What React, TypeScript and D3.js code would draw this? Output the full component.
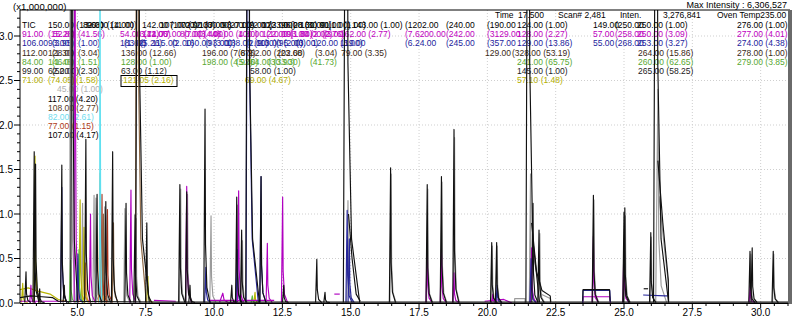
import * as d3 from "d3";

// peak: [retention time (min), height (x1,000,000), base half-width (min)]
type Peak = [number, number, number?];
type Pt = [number, number];

const W = 793;
const H = 318;
const plot = { left: 20, right: 788, top: 10, bottom: 303 };

const xTickLabels = [5.0, 7.5, 10.0, 12.5, 15.0, 17.5, 20.0, 22.5, 25.0, 27.5, 30.0];
const yTickLabels = [0.0, 0.5, 1.0, 1.5, 2.0, 2.5, 3.0];

const blackPeaks: Peak[] = [
  [3.12, 0.35], [3.42, 1.7], [3.47, 1.56], [3.62, 0.16], [4.43, 1.55], [4.52, 0.2],
  [4.81, 9, 0.05], [5.31, 1.84], [5.72, 1.22], [6.04, 1.14], [6.29, 1.7], [6.78, 1.12],
  [7.11, 0.99], [7.23, 9, 0.1], [7.54, 0.9], [8.75, 1.33], [9.0, 1.25], [9.12, 0.2],
  [9.67, 2.18], [10.65, 0.2], [10.83, 1.19], [11.01, 0.82], [11.26, 9, 0.1], [11.72, 1.42],
  [12.55, 0.2], [13.76, 0.49], [14.06, 0.12], [14.85, 9, 0.12], [16.46, 1.52], [17.8, 1.33],
  [18.32, 1.42], [18.78, 1.95], [20.16, 0.68], [20.34, 0.68], [21.51, 9, 0.1], [21.67, 1.12],
  [21.89, 0.82], [23.88, 1.21], [25.0, 1.02], [25.03, 1.07], [25.98, 0.79], [26.19, 9, 0.11],
  [29.61, 0.58], [29.69, 0.62], [30.46, 0.58],
];

const grayPeaks: Peak[] = [
  [4.76, 9, 0.04], [5.19, 1.12], [5.61, 1.21], [5.68, 1.18], [6.0, 1.08], [6.74, 1.06],
  [7.15, 0.95], [8.78, 1.28], [9.03, 1.22], [9.89, 0.98], [10.86, 1.1], [11.04, 0.7],
  [14.9, 1.15], [16.48, 1.45], [17.82, 1.28], [18.34, 1.36], [18.8, 1.86], [20.18, 0.64],
  [20.36, 0.64], [21.58, 1.45], [21.92, 0.78], [23.9, 1.16], [25.05, 0.98], [26.0, 0.74],
  [26.24, 2.4, 0.08], [29.64, 0.55], [30.48, 0.55],
];

const magentaPeaks: Peak[] = [
  [3.3, 0.2], [4.91, 9, 0.03], [5.48, 1.0], [6.96, 1.27], [9.0, 1.31], [10.32, 0.11, 0.12],
  [10.9, 1.26], [11.95, 0.67], [12.51, 1.19], [17.8, 0.68], [18.32, 0.6], [18.78, 0.34],
  [20.2, 0.1], [21.62, 0.62], [23.88, 0.75], [25.0, 0.68], [29.62, 0.2],
];

const navyPeaks: Peak[] = [
  [4.43, 1.3], [5.02, 0.55], [9.7, 0.4], [10.85, 0.6], [11.26, 9, 0.09], [11.72, 1.42],
  [14.87, 1.04], [14.95, 0.72], [21.6, 0.5], [20.36, 0.2],
];

const olivePeaks: Peak[] = [
  [3.0, 0.22], [3.45, 1.65], [5.1, 1.16], [5.24, 0.85], [7.58, 0.3], [11.5, 0.12],
];
const greenPeaks: Peak[] = [[4.75, 0.48], [5.06, 0.6], [11.4, 0.08]];
const brownPeaks: Peak[] = [[5.95, 1.0], [7.2, 9, 0.08], [6.32, 0.9]];
const orangePeaks: Peak[] = [[5.83, 1.46], [5.3, 0.45]];
const redPeaks: Peak[] = [[5.9, 1.22], [6.1, 1.05]];
const cyanPeaks: Peak[] = [[5.83, 9, 0.015]];

// baselines and plateaus
const blackBase: Pt[] = [[2.9, 0.06], [3.3, 0.08], [3.7, 0.07], [4.1, 0.06], [4.3, 0.02], [8.0, 0.01], [31.0, 0.01]];
const oliveBase: Pt[] = [[2.9, 0.15], [3.2, 0.17], [3.6, 0.13], [4.0, 0.1], [4.3, 0.04], [4.6, 0.02]];
const magentaBases: Pt[][] = [
  [[2.9, 0.02], [4.6, 0.02]],
  [[7.8, 0.03], [8.6, 0.02]],
  [[9.8, 0.03], [12.2, 0.03]],
  [[14.4, 0.1], [14.6, 0.1]],
  [[19.9, 0.02], [20.6, 0.04], [20.9, 0.0]],
];
const grayBox: Pt[] = [[21.0, 0], [21.0, 0.05], [21.38, 0.05], [21.38, 0]];
const navyStep: Pt[] = [[23.49, 0], [23.5, 0.14], [24.48, 0.14], [24.5, 0.01]];
const blackStep: Pt[] = [[23.49, 0.02], [23.5, 0.15], [24.47, 0.15], [24.49, 0.02]];
const magentaStep: Pt[] = [[23.49, 0], [23.5, 0.07], [24.48, 0.07], [24.5, 0.0]];
const navySmall: Pt[] = [[25.7, 0.09], [26.5, 0.08], [26.6, 0.08]];
const blackSmall: Pt[] = [[25.72, 0.16], [25.88, 0.16]];
const blackTails: Pt[][] = [
  [[14.92, 1.0], [15.05, 0.5], [15.2, 0.1], [15.35, 0.02]],
  [[21.62, 0.9], [21.8, 0.35], [22.0, 0.14], [22.3, 0.08], [22.32, 0.01]],
  [[26.24, 1.6], [26.42, 0.9], [26.62, 0.26], [26.63, 0.01]],
];
const grayTails: Pt[][] = [
  [[21.7, 0.5], [21.95, 0.1], [22.3, 0.05], [22.31, 0]],
  [[26.28, 1.2], [26.45, 0.7], [26.62, 0.22], [26.63, 0.0]],
];

const series = [
  { color: "#9a9a9a", peaks: grayPeaks, lines: [grayBox, ...grayTails] },
  { color: "#b8b400", peaks: olivePeaks, lines: [oliveBase] },
  { color: "#5cc03a", peaks: greenPeaks, lines: [] as Pt[][] },
  { color: "#e08a20", peaks: orangePeaks, lines: [] as Pt[][] },
  { color: "#a8321c", peaks: redPeaks, lines: [] as Pt[][] },
  { color: "#8a6440", peaks: brownPeaks, lines: [] as Pt[][] },
  { color: "#5fe0f0", peaks: cyanPeaks, lines: [] as Pt[][] },
  { color: "#b000c0", peaks: magentaPeaks, lines: [...magentaBases, magentaStep] },
  { color: "#26269a", peaks: navyPeaks, lines: [navyStep, navySmall] },
  { color: "#111111", peaks: blackPeaks, lines: [blackBase, blackStep, blackSmall, ...blackTails] },
];

const rowColors = [
  "#000000", "#c000c0", "#1c1c9c", "#3a2816", "#58a830", "#222222", "#b4b000",
  "#b0b0b0", "#000000", "#5a3a24", "#6fdcee", "#b03a1a", "#000000",
];

// [row, x, text]
const peakLabels: [number, number, string][] = [
  [0, 22, "TIC"], [0, 48, "150.00 (13.68)"], [0, 83, "82.00 (14.00)"], [0, 87, "90.00 (11.00)"],
  [0, 142, "142.00 (10.00)"], [0, 160, "107.00 (32.00)"], [0, 181, "72.00 (30.00)"],
  [0, 199, "137.00 (27.00)"], [0, 222, "93.00 (22.00)"], [0, 241, "119.00 (33.00)"],
  [0, 262, "122.00 (28.00)"], [0, 281, "96.00 (30.00)"], [0, 300, "131.00 (1.00)"],
  [0, 320, "91.00 (1.00)"], [0, 352, "143.00 (1.00)"], [0, 405, "(1202.00"], [0, 446, "(240.00"],
  [0, 487, "(190.00"], [0, 517, "124.00 (1.00)"], [0, 593, "149.00"], [0, 615, "(250.00"],
  [0, 637, "250.00 (1.00)"], [0, 737, "276.00 (1.00)"],

  [1, 22, "91.00"], [1, 48, "(15.28)"], [1, 53, "52.80"], [1, 78, "(41.56)"],
  [1, 120, "54.00 (12.06)"], [1, 137, "(3.74)"], [1, 142, "141.00"], [1, 160, "77.00 (7.00)"],
  [1, 180, "80.00 (4.00)"], [1, 198, "(3.40)"], [1, 212, "48.00 (4.80)"], [1, 238, "100.00 (10.00)"],
  [1, 262, "122.00 (1.00)"], [1, 282, "193.00 (2.00)"], [1, 300, "84.00 (3.00)"], [1, 322, "(2.76)"],
  [1, 340, "162.00 (2.77)"], [1, 405, "(7.6200.00"], [1, 446, "(242.00"], [1, 487, "(3129.00"],
  [1, 517, "128.00 (2.27)"], [1, 593, "57.00"], [1, 615, "(258.00"], [1, 637, "250.00 (3.09)"],
  [1, 737, "277.00 (4.01)"],

  [2, 22, "106.00"], [2, 48, "93.00"], [2, 52, "(3.95)"], [2, 78, "(1.00)"], [2, 120, "183.00"],
  [2, 124, "(1.62)"], [2, 140, "(5.26)"], [2, 152, "115.00"], [2, 172, "(2.00)"],
  [2, 185, "160.00 (3.00)"], [2, 205, "(93.00)"], [2, 226, "138.00 (9.00)"], [2, 246, "(2.00)"],
  [2, 256, "113.00 (2.00)"], [2, 276, "(95.00)"], [2, 296, "(3.00)"], [2, 312, "120.00 (3.00)"],
  [2, 340, "119.00"], [2, 405, "(6.24.00"], [2, 446, "(245.00"], [2, 487, "(357.00"],
  [2, 517, "129.00 (13.86)"], [2, 593, "55.00"], [2, 615, "(268.00"], [2, 637, "253.00 (3.27)"],
  [2, 737, "274.00 (4.38)"],

  [3, 22, "112.00"], [3, 48, "128.00"], [3, 52, "(1.30)"], [3, 78, "(3.04)"],
  [3, 121, "136.00 (12.66)"], [3, 202, "196.00 (7.67)"], [3, 238, "(8.2)"], [3, 250, "62.00 (202.00"],
  [3, 278, "(23.68)"], [3, 315, "(3.04)"], [3, 341, "79.00 (3.35)"], [3, 485, "129.00"],
  [3, 512, "(328.00 (53.19)"], [3, 638, "264.00 (15.86)"], [3, 737, "278.00 (1.00)"],

  [4, 22, "84.00"], [4, 48, "146.00"], [4, 52, "(1.46)"], [4, 78, "(1.51)"], [4, 121, "128.00 (1.00)"],
  [4, 202, "198.00 (4.92)"], [4, 236, "(5.40)"], [4, 250, "64.00 (33.30)"], [4, 268, "(30.90)"],
  [4, 310, "(41.73)"], [4, 517, "241.00 (65.75)"], [4, 638, "260.00 (62.65)"], [4, 737, "279.00 (3.85)"],

  [5, 22, "99.00"], [5, 48, "62.00"], [5, 52, "(52.00)"], [5, 78, "(2.30)"], [5, 121, "63.00 (1.12)"],
  [5, 250, "58.00 (1.00)"], [5, 517, "145.00 (1.00)"], [5, 638, "265.00 (58.25)"],

  [6, 22, "71.00"], [6, 48, "(74.05)"], [6, 76, "(1.58)"], [6, 123, "121.05 (2.16)"],
  [6, 245, "69.00 (4.67)"], [6, 517, "57.10 (1.48)"],

  [7, 57, "45.00 (1.00)"], [8, 48, "117.00 (4.20)"], [9, 48, "108.00 (2.77)"],
  [10, 48, "82.00 (2.61)"], [11, 48, "77.00 (1.15)"], [12, 48, "107.00 (4.17)"],
];

const headerItems: [number, string][] = [
  [495, "Time"], [518, "17.500"], [558, "Scan# 2,481"], [620, "Inten."], [663, "3,276,841"],
  [717, "Oven Temp235.00"],
];

const font = "'Liberation Sans', Arial, sans-serif";

function spike([t, h, w = 0.045]: Peak): Pt[] {
  return [[t - w, 0.005], [t, h], [t + 0.4 * w, 0.3 * h], [t + 1.5 * w, 0.08 * h], [t + 4 * w, 0.005]];
}

export default function App() {
  const x = d3.scaleLinear().domain([2.9, 31.0]).range([plot.left, plot.right]);
  const y = d3.scaleLinear().domain([0, 3.0]).range([plot.bottom, 36]);
  const line = d3.line<Pt>().x((d) => x(d[0])).y((d) => y(d[1]));

  const rowY = (r: number) => 25 + r * 9.2;
  const xMinor = d3.range(3.0, 31.01, 0.5);
  const yMinor = d3.range(0, 3.25, 0.1);

  return (
    <>
      <style>{`body{margin:0}`}</style>
      <svg width={W} height={H} style={{ display: "block", background: "#fff" }} fontFamily={font}>
        <defs>
          <clipPath id="plotClip">
            <rect x={plot.left} y={plot.top} width={plot.right - plot.left} height={plot.bottom - plot.top + 1} />
          </clipPath>
        </defs>

        {/* grid */}
        <g stroke="#cfcfcf" strokeDasharray="1 2" strokeWidth={1}>
          {yTickLabels.slice(1).map((v) => (
            <line key={`gy${v}`} x1={plot.left} x2={plot.right} y1={y(v)} y2={y(v)} />
          ))}
          {xTickLabels.map((v) => (
            <line key={`gx${v}`} x1={x(v)} x2={x(v)} y1={plot.top} y2={plot.bottom} />
          ))}
        </g>

        {/* in-plot peak labels */}
        <g fontSize={8.5}>
          {peakLabels.map(([r, px, s], i) => (
            <text key={i} x={px} y={rowY(r) + 3} fill={rowColors[r]}>
              {s}
            </text>
          ))}
          <rect x={121} y={75.5} width={56} height={11} fill="none" stroke="#000" strokeWidth={1} />
          {headerItems.map(([px, s]) => (
            <text key={s} x={px} y={18} fill="#000">
              {s}
            </text>
          ))}
        </g>

        {/* traces */}
        <g clipPath="url(#plotClip)" fill="none" strokeWidth={1.15} strokeLinejoin="round">
          {series.map((s, si) => (
            <g key={si} stroke={s.color}>
              {s.lines.map((pts, li) => (
                <path key={`l${li}`} d={line(pts) ?? undefined} />
              ))}
              {s.peaks.map((p, pi) => (
                <path key={`p${pi}`} d={line(spike(p)) ?? undefined} />
              ))}
            </g>
          ))}
        </g>

        {/* frame */}
        <line x1={plot.left} x2={plot.right + 2} y1={plot.top} y2={plot.top} stroke="#000" />
        <line x1={plot.left} x2={plot.left} y1={plot.top} y2={plot.bottom} stroke="#000" />
        <line x1={plot.left} x2={plot.right + 2} y1={plot.bottom + 0.5} y2={plot.bottom + 0.5} stroke="#000" />
        <rect x={plot.right} y={plot.top} width={4} height={plot.bottom - plot.top + 1} fill="#6a6a6a" />

        {/* y axis */}
        <g stroke="#000">
          {yMinor.map((v, i) => (
            <line key={i} x1={i % 5 === 0 ? plot.left - 6 : plot.left - 3} x2={plot.left} y1={y(v)} y2={y(v)} />
          ))}
        </g>
        {yTickLabels.map((v) => (
          <text key={v} x={13} y={y(v) + 3.5} fontSize={10} textAnchor="end" fill="#000">
            {v.toFixed(1)}
          </text>
        ))}

        {/* x axis */}
        <g stroke="#000">
          {xMinor.map((v, i) => (
            <line key={i} x1={x(v)} x2={x(v)} y1={plot.bottom} y2={plot.bottom + (i % 5 === 4 ? 5 : 3)} />
          ))}
        </g>
        {xTickLabels.map((v) => (
          <text key={v} x={x(v)} y={316} fontSize={10} textAnchor="middle" fill="#000">
            {v.toFixed(1)}
          </text>
        ))}

        <text x={13} y={9.5} fontSize={9.5} fill="#000">
          (x1,000,000)
        </text>
        <text x={787} y={8} fontSize={9} textAnchor="end" fill="#000">
          Max Intensity : 6,306,527
        </text>
      </svg>
    </>
  );
}
